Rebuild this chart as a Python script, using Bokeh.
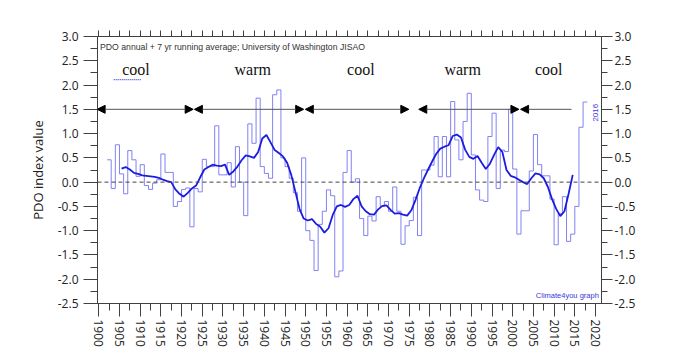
import numpy as np
from bokeh.plotting import figure
from bokeh.models import (Range1d, LinearAxis, Span, Label, Arrow, NormalHead,
                          FixedTicker, ColumnDataSource, NumeralTickFormatter)
from bokeh.embed import file_html
from bokeh.resources import INLINE

# ---------------- data ----------------
# annual PDO values (1900-2015), one step per year; first step drawn at 1902 on the axis
annual_values = [
    0.46, -0.13, 0.77, 0.17, -0.24, 0.65, 0.46, 0.12, 0.36, -0.07,     # 1900-09
    -0.15, -0.02, 0.05, 0.58, 0.20, 0.20, -0.50, -0.40, -0.15, -0.12,  # 1910-19
    -0.92, -0.13, -0.20, 0.47, 0.32, 0.32, 1.16, 0.15, 0.15, 0.40,     # 1920-29
    -0.10, 0.73, 0.00, -0.69, 1.20, 0.80, 1.73, 0.32, 0.18, 0.08,      # 1930-39
    1.80, 1.90, 0.50, 0.32, 0.08, -0.22, -0.60, 0.50, -1.00, -1.20,    # 1940-49
    -1.82, -0.87, -0.60, -0.16, -0.28, -1.95, -1.83, 0.20, 0.65, 0.00, # 1950-59
    0.07, -0.75, -1.10, -0.70, -0.80, -0.30, -0.50, -0.40, -0.60, -0.10,  # 1960-69
    -0.60, -1.28, -0.90, -0.79, -0.31, -1.10, 0.25, 0.25, 0.35, 0.94,  # 1970-79
    0.11, 0.94, 0.11, 1.66, 0.87, 0.46, 1.25, 1.83, 0.56, -0.16,       # 1980-89
    -0.37, -0.40, 0.94, 1.42, -0.13, 0.66, 0.63, 1.50, 0.27, -1.07,    # 1990-99
    -0.59, -0.59, 0.23, 0.98, 0.36, 0.13, 0.13, -0.35, -1.29, -0.65,   # 2000-09
    -0.30, -1.22, -1.07, -0.50, 1.13, 1.65,                            # 2010-15
]
step_start_years = list(range(1902, 1902 + len(annual_values)))

# 7-yr running average as drawn (axis positions 1905.5 ... 2014.5)
running_mean = [
    0.28, 0.31, 0.26, 0.19, 0.17, 0.14, 0.13, 0.12, 0.11, 0.09,
    0.05, 0.02, 0.00, -0.15, -0.24, -0.30, -0.22, -0.13, -0.07, 0.10,
    0.26, 0.31, 0.36, 0.34, 0.33, 0.36, 0.15, 0.22, 0.32, 0.45,
    0.55, 0.53, 0.50, 0.62, 0.90, 0.97, 0.82, 0.66, 0.60, 0.53,
    0.40, 0.15, -0.20, -0.55, -0.75, -0.79, -0.76, -0.86, -0.92, -1.04,
    -0.95, -0.68, -0.50, -0.47, -0.51, -0.47, -0.35, -0.28, -0.50, -0.60,
    -0.66, -0.67, -0.56, -0.49, -0.48, -0.57, -0.65, -0.64, -0.67, -0.69,
    -0.58, -0.37, -0.13, 0.07, 0.25, 0.42, 0.58, 0.69, 0.73, 0.76,
    0.95, 0.98, 0.92, 0.67, 0.52, 0.48, 0.54, 0.40, 0.27, 0.38,
    0.56, 0.72, 0.62, 0.25, 0.13, 0.10, 0.05, 0.00, -0.04, 0.08,
    0.18, 0.16, 0.08, -0.10, -0.35, -0.55, -0.70, -0.60, -0.24, 0.15,
]
mean_years = [1905.5 + i for i in range(len(running_mean))]

# regime arrows (cool / warm periods)
regime_labels = ["cool", "warm", "cool", "warm", "cool"]
regime_label_x = [1909.0, 1937.2, 1963.3, 1987.9, 2008.7]
regime_start = [1899.6, 1923.1, 1949.9, 1977.3, 2001.9]
regime_end = [1922.8, 1949.5, 1974.9, 2001.5, 2014.2]
regime_level = 1.5

x_ticks = list(range(1900, 2021, 5))
x_minor = [t + 2.5 for t in range(1895, 2025, 5)]
y_ticks = [-2.5, -2.0, -1.5, -1.0, -0.5, 0.0, 0.5, 1.0, 1.5, 2.0, 2.5, 3.0]
y_minor = [t + 0.25 for t in [-2.75] + y_ticks]

# ---------------- figure ----------------
p = figure(width=677, height=349, output_backend="svg", toolbar_location=None,
           x_range=Range1d(1899.69, 2021.45), y_range=Range1d(-2.5, 3.0),
           min_border_left=97, min_border_right=76, min_border_top=36,
           min_border_bottom=46)
p.xgrid.visible = False
p.ygrid.visible = False
p.outline_line_color = "#404040"
p.outline_line_width = 1
p.background_fill_color = "white"
p.border_fill_color = "white"

tick_font = "Open Sans"
xt = FixedTicker(ticks=x_ticks, minor_ticks=x_minor)
yt = FixedTicker(ticks=y_ticks, minor_ticks=y_minor)

ax = p.xaxis[0]
ax.ticker = xt
ax.major_label_orientation = "vertical"
ax.major_tick_out = 13
ax.minor_tick_out = 7
ax.major_tick_in = 0
ax.minor_tick_in = 0
ax.major_label_standoff = 3
ax.major_label_text_font = tick_font
ax.major_label_text_font_size = "12px"
ax.major_label_text_color = "#222222"
ax.axis_line_color = "#404040"
ax.major_tick_line_color = "#404040"
ax.minor_tick_line_color = "#404040"

ay = p.yaxis[0]
ay.ticker = yt
ay.formatter = NumeralTickFormatter(format="0.0")
ay.major_tick_out = 14
ay.minor_tick_out = 7
ay.major_tick_in = 0
ay.minor_tick_in = 0
ay.major_label_standoff = 5
ay.major_label_text_font = tick_font
ay.major_label_text_font_size = "12px"
ay.major_label_text_color = "#222222"
ay.axis_label = "PDO index value"
ay.axis_label_text_font = tick_font
ay.axis_label_text_font_size = "13px"
ay.axis_label_text_font_style = "normal"
ay.axis_label_text_color = "#222222"
ay.axis_label_standoff = 8
ay.axis_line_color = "#404040"
ay.major_tick_line_color = "#404040"
ay.minor_tick_line_color = "#404040"

ry = LinearAxis(ticker=yt, formatter=NumeralTickFormatter(format="0.0"),
                major_tick_out=11, minor_tick_out=6, major_tick_in=0, minor_tick_in=0,
                major_label_standoff=2, major_label_text_font=tick_font,
                major_label_text_font_size="12px", major_label_text_color="#222222",
                axis_line_color="#404040", major_tick_line_color="#404040",
                minor_tick_line_color="#404040")
p.add_layout(ry, "right")

tx = LinearAxis(ticker=xt, major_tick_out=6, minor_tick_out=6, major_tick_in=0,
                minor_tick_in=0, major_label_overrides={t: "" for t in x_ticks},
                major_label_text_font_size="1px",
                axis_line_color="#404040", major_tick_line_color="#404040",
                minor_tick_line_color="#404040")
p.add_layout(tx, "above")

# zero line
p.add_layout(Span(location=0, dimension="width", line_color="#444444",
                  line_dash="4 3", line_width=1))

# annual step curve
sx = np.array(step_start_years, dtype=float)
step_x = np.column_stack([sx, sx + 1]).ravel()
step_y = np.repeat(np.array(annual_values), 2)
p.line(step_x, step_y, line_color="#7474f2", line_width=1, line_alpha=0.9)

# running mean
p.line(mean_years, running_mean, line_color="#1c1ce0", line_width=1.8)

# regime arrows
both = ColumnDataSource(dict(x0=regime_start[:4], x1=regime_end[:4],
                             y0=[regime_level] * 4, y1=[regime_level] * 4))
p.add_layout(Arrow(source=both, x_start="x0", y_start="y0", x_end="x1", y_end="y1",
                   line_color="#555555", line_width=1,
                   start=NormalHead(size=8, fill_color="black", line_color="black"),
                   end=NormalHead(size=8, fill_color="black", line_color="black")))
last = ColumnDataSource(dict(x0=[regime_end[4]], x1=[regime_start[4]],
                             y0=[regime_level], y1=[regime_level]))
p.add_layout(Arrow(source=last, x_start="x0", y_start="y0", x_end="x1", y_end="y1",
                   line_color="#555555", line_width=1,
                   end=NormalHead(size=8, fill_color="black", line_color="black")))

for txt, xc in zip(regime_labels, regime_label_x):
    p.add_layout(Label(x=xc, y=2.31, text=txt, text_align="center",
                       text_baseline="alphabetic", text_font="Liberation Serif",
                       text_font_size="16px", text_color="#111111"))

# spell-check style underline under the first label
p.line([1903.6, 1910.3], [2.11, 2.11], line_color="#3344ee", line_width=1.2,
       line_dash="1 1")

p.add_layout(Label(x=1900.3, y=2.79, text="PDO annual + 7 yr running average; University of Washington JISAO",
                   text_baseline="middle", text_font="Liberation Sans",
                   text_font_size="8.7px", text_color="#333333"))
p.add_layout(Label(x=2020.0, y=1.43, text="2016", angle=np.pi / 2,
                   text_align="center", text_baseline="middle",
                   text_font="Liberation Sans", text_font_size="8px",
                   text_color="#3333dd"))
p.add_layout(Label(x=2020.8, y=-2.34, text="Climate4you graph", text_align="right",
                   text_baseline="middle", text_font="Liberation Sans",
                   text_font_size="7.5px", text_color="#3838d8"))

open("out.html", "w").write(file_html(p, INLINE))
